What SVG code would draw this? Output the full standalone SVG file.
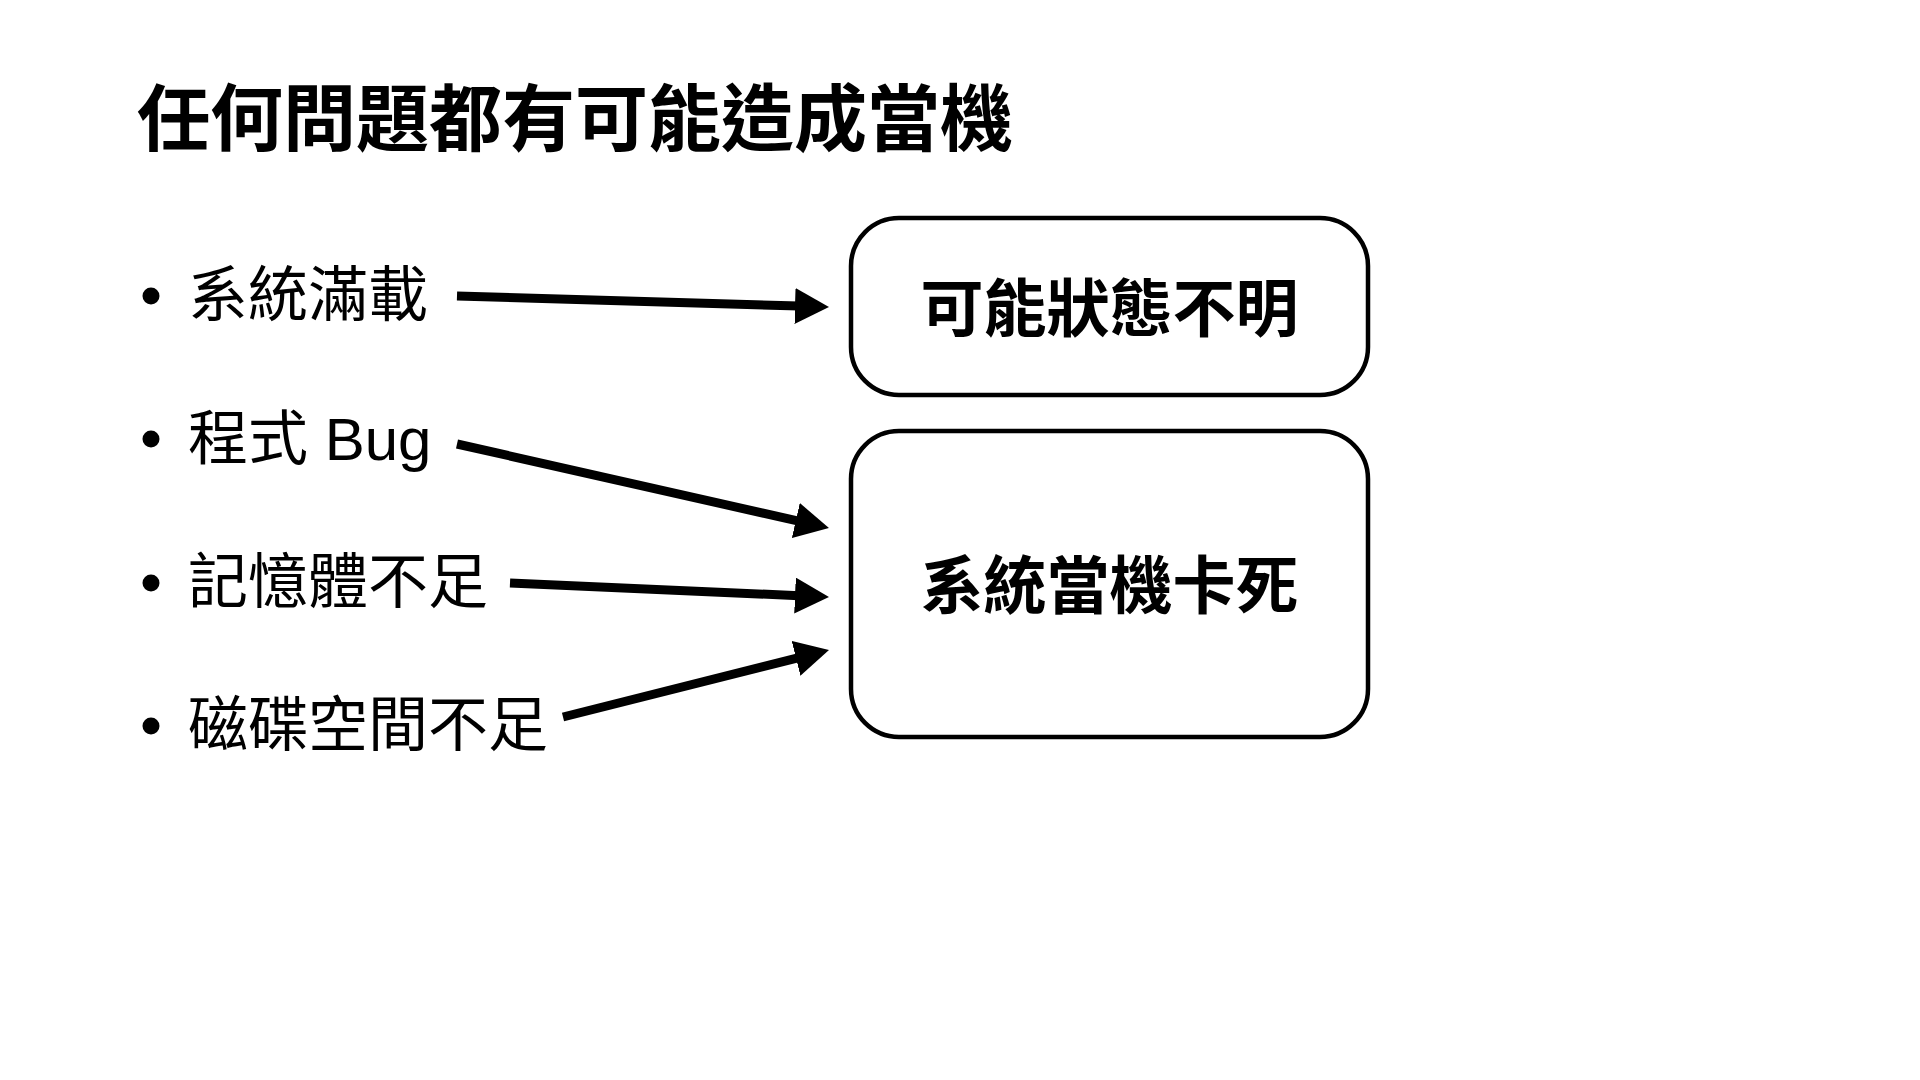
<svg xmlns="http://www.w3.org/2000/svg" width="1920" height="1080" viewBox="0 0 1920 1080">
  <style>
    .title { font-family: "Liberation Sans", "Noto Sans CJK TC", sans-serif; font-size: 73px; font-weight: bold; fill: #000; }
    .item { font-family: "Liberation Sans", "Noto Sans CJK TC", sans-serif; font-size: 60px; fill: #000; }
    .bullet { fill: #000; }
    .box { fill: #fff; stroke: #000; stroke-width: 4.5; }
    .label { font-family: "Liberation Sans", "Noto Sans CJK TC", sans-serif; font-size: 63px; font-weight: bold; fill: #000; text-anchor: middle; }
    .conn { stroke: #000; stroke-width: 9; fill: none; marker-end: url(#head); }
  </style>
  <defs>
    <marker id="head" markerUnits="userSpaceOnUse" viewBox="0 0 34 36" markerWidth="34" markerHeight="36" refX="4" refY="18" orient="auto">
      <path d="M0,0 L34,18 L0,36 Z" fill="#000"/>
    </marker>
  </defs>
  <rect x="0" y="0" width="1920" height="1080" fill="#fff"/>

  <g id="title">
    <text class="title" x="137" y="145">任何問題都有可能造成當機</text>
  </g>

  <g id="item-load">
    <circle class="bullet" cx="151" cy="296" r="8.5"/>
    <text class="item" x="188" y="316">系統滿載</text>
  </g>
  <g id="item-bug">
    <circle class="bullet" cx="151" cy="439" r="8.5"/>
    <text class="item" x="188" y="460">程式 Bug</text>
  </g>
  <g id="item-memory">
    <circle class="bullet" cx="151" cy="583" r="8.5"/>
    <text class="item" x="188" y="603">記憶體不足</text>
  </g>
  <g id="item-disk">
    <circle class="bullet" cx="151" cy="726" r="8.5"/>
    <text class="item" x="188" y="746">磁碟空間不足</text>
  </g>

  <g id="node-unknown">
    <rect class="box" x="851" y="218" width="517" height="177" rx="48" ry="48"/>
    <text class="label" x="1109.5" y="330.5">可能狀態不明</text>
  </g>
  <g id="node-crash">
    <rect class="box" x="851" y="431" width="517" height="306" rx="48" ry="48"/>
    <text class="label" x="1109.5" y="608">系統當機卡死</text>
  </g>

  <g id="connectors">
    <line class="conn" x1="457" y1="296" x2="799.0" y2="306.1"/>
    <line class="conn" x1="457" y1="444" x2="799.7" y2="521.4"/>
    <line class="conn" x1="510" y1="583" x2="799.0" y2="595.7"/>
    <line class="conn" x1="563" y1="717" x2="799.9" y2="657.3"/>
  </g>
</svg>
